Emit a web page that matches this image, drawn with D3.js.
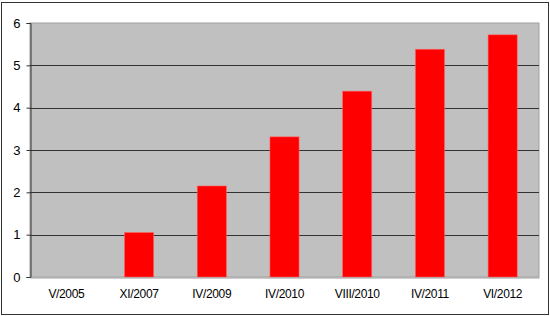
<!DOCTYPE html>
<html><head><meta charset="utf-8">
<script src="https://cdn.jsdelivr.net/npm/d3@7"></script>
<style>body{margin:0;background:#fff}svg{display:block}</style>
</head><body>
<script>
const categories = ["V/2005","XI/2007","IV/2009","IV/2010","VIII/2010","IV/2011","VI/2012"];
const values = [0, 1.05, 2.15, 3.31, 4.39, 5.38, 5.72];
const yTicks = [0,1,2,3,4,5,6];

const W=550,H=316;
const m={left:30,right:11,top:23,bottom:39};
const svg=d3.select("body").append("svg").attr("width",W).attr("height",H);
svg.append("rect").attr("x",1.5).attr("y",2.5).attr("width",547).attr("height",312)
  .attr("fill","#fff").attr("stroke","#333").attr("stroke-width",1);

const x=d3.scaleBand().domain(categories).range([m.left,W-m.right]).paddingInner(0.6).paddingOuter(0.3);
const y=d3.scaleLinear().domain([0,6]).range([H-m.bottom,m.top]);

svg.append("rect").attr("x",m.left).attr("y",m.top).attr("width",W-m.right-m.left).attr("height",H-m.bottom-m.top)
  .attr("fill","#c0c0c0").attr("stroke","#a0a0a0");

svg.append("g").selectAll("line").data(yTicks.filter(d=>d>0&&d<6)).join("line")
  .attr("x1",m.left).attr("x2",W-m.right).attr("y1",d=>Math.round(y(d))+0.5).attr("y2",d=>Math.round(y(d))+0.5)
  .attr("stroke","#333").attr("stroke-width",1);

svg.append("g").selectAll("rect").data(values).join("rect")
  .attr("x",(d,i)=>x(categories[i])).attr("width",x.bandwidth())
  .attr("y",d=>y(d)).attr("height",d=>y(0)-y(d))
  .attr("fill","#ff0000").attr("stroke","#ff6060").attr("stroke-width",0.6);

const ya=svg.append("g").attr("transform",`translate(${m.left+0.5},0)`)
  .call(d3.axisLeft(y).tickValues(yTicks).tickSize(4).tickPadding(6).tickFormat(d3.format("d")));
ya.select(".domain").attr("stroke","#333");
ya.selectAll(".tick line").attr("stroke","#333");
ya.selectAll("text").attr("font-family","Liberation Sans, Arial, sans-serif").attr("font-size",13).attr("fill","#000");

const xa=svg.append("g").attr("transform",`translate(0,${H-m.bottom+0.5})`)
  .call(d3.axisBottom(x).tickSize(0).tickPadding(12));
xa.select(".domain").attr("stroke","#999");
xa.selectAll("text").attr("font-family","Liberation Sans, Arial, sans-serif").attr("font-size",12)
  .attr("letter-spacing","-0.35px").attr("fill","#000");
</script>
</body></html>
